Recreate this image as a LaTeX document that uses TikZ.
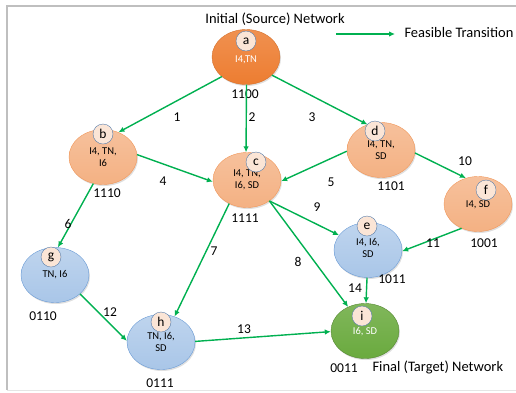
\documentclass[tikz,border=0pt]{standalone}
\usepackage{fontspec}
\setmainfont{Carlito}
\usetikzlibrary{shapes.geometric,shadows,arrows.meta}
\definecolor{arrgreen}{HTML}{00B050}
\definecolor{orgdark}{HTML}{ED7D31}
\definecolor{orglight}{HTML}{F4B183}
\definecolor{bluelight}{HTML}{A9C6E8}
\definecolor{blueline}{HTML}{6A9BD6}
\definecolor{grnnode}{HTML}{6AAA3E}
\definecolor{peach}{HTML}{FBE5D6}
\definecolor{framegray}{HTML}{BFBFBF}
\begin{document}
\begin{tikzpicture}[x=1pt,y=-1pt,
  state/.style = {ellipse, minimum width=68pt, minimum height=55pt, inner sep=0pt,
    align=center, font=\fontsize{10.5}{12}\selectfont, text=black,
    drop shadow={opacity=0.25, shadow xshift=1pt, shadow yshift=-1.5pt}},
  srcnet/.style = {state, draw=orgdark!90!black, top color=orgdark!85!white, bottom color=orgdark, text=white},
  orgnet/.style = {state, draw=orgdark!80, top color=orglight!80!white, bottom color=orglight},
  bluenet/.style = {state, draw=blueline, top color=bluelight!75!white, bottom color=bluelight},
  tgtnet/.style = {state, draw=grnnode!80!black, top color=grnnode!85!white, bottom color=grnnode, text=white},
  letter/.style = {circle, draw=blueline!80!black, fill=peach, minimum size=20pt, inner sep=0pt,
    font=\fontsize{13.5}{13.5}\selectfont},
  code/.style = {font=\fontsize{13.5}{13.5}\selectfont},
  num/.style = {font=\fontsize{13.5}{13.5}\selectfont},
  big/.style = {font=\fontsize{14.5}{14.5}\selectfont},
  trans/.style = {draw=arrgreen, line width=1.4pt, -{Latex[length=6pt,width=5.5pt]}}
]
\useasboundingbox (0,0) rectangle (516,392);
%% Rahmen
\draw[framegray, line width=2pt] (516,6) -- (7,6) -- (7,390);
\draw[framegray!40, line width=0.8pt] (7,390) -- (516,390);
%% Titel und Legende
\node[big] (title) at (275,19) {Initial (Source) Network};
\coordinate (legs) at (336,34);
\coordinate (lege) at (395,34);
\draw[trans] (legs) -- (lege);
\node[big, anchor=west] (legtxt) at (401,33) {Feasible Transition};
\node[big, anchor=west] (final) at (369,367) {Final (Target) Network};
%% Netze
\node[srcnet]  (a) at (246,57)  {\\[1pt]I4,TN};
\node[orgnet]  (b) at (103,157) {\\[-5pt]I4, TN,\\I6};
\node[orgnet]  (c) at (247,180) {\\[-5pt]I4, TN,\\I6, SD};
\node[orgnet]  (d) at (381,150) {\\[-5pt]I4, TN,\\SD};
\node[orgnet]  (f) at (478,204) {\\[-3pt]I4, SD};
\node[bluenet] (e) at (368,250) {\\[-9pt]I4, I6,\\SD};
\node[bluenet] (g) at (55,275)  {TN, I6};
\node[bluenet] (h) at (161,342) {\\[-5pt]TN, I6,\\SD};
\node[tgtnet]  (i) at (365,331) {\\[-4pt]I6, SD};
%% Buchstaben
\node[letter] (la) at (246,41)  {a};
\node[letter] (lb) at (103,134) {b};
\node[letter] (lc) at (256,162) {c};
\node[letter] (ld) at (375,131) {d};
\node[letter] (lf) at (486,190) {f};
\node[letter] (le) at (367,226) {e};
\node[letter] (lg) at (51,257)  {g};
\node[letter] (lh) at (161,322) {h};
\node[letter] (li) at (362,316) {i};
%% Codes
\node[code] (ca) at (245,94)  {1100};
\node[code] (cb) at (107,193) {1110};
\node[code] (cc) at (245,218) {1111};
\node[code] (cd) at (391,186) {1101};
\node[code] (cf) at (484,243) {1001};
\node[code] (ce) at (392,279) {1011};
\node[code] (cg) at (43,316)  {0110};
\node[code] (ch) at (160,383) {0111};
\node[code] (ci) at (344,368) {0011};
%% Uebergaenge
\draw[trans] (a.219) -- (b.58);
\draw[trans] (a.271) -- (c.92);
\draw[trans] (a.-35) -- (d.118);
\draw[trans] (b.4) -- (c.183);
\draw[trans] (d.182) -- (c.-2);
\draw[trans] (d.-5) -- (f.115);
\draw[trans] (b.250) -- (g.84);
\draw[trans] (c.233) -- (h.62);
\draw[trans] (c.-43) -- (i.125);
\draw[trans] (c.-43) -- (e.153);
\draw[trans] (f.236) -- (e.-2);
\draw[trans] (g.-37) -- (h.178);
\draw[trans] (h.1) -- (i.181);
\draw[trans] (e.-92) -- (i.88);
%% Nummern
\node[num] (n1)  at (177,117) {1};
\node[num] (n2)  at (252,117) {2};
\node[num] (n3)  at (312,117) {3};
\node[num] (n4)  at (163,181) {4};
\node[num] (n5)  at (331,182) {5};
\node[num] (n6)  at (68,224)  {6};
\node[num] (n7)  at (214,251) {7};
\node[num] (n8)  at (298,262) {8};
\node[num] (n9)  at (317,207) {9};
\node[num] (n10) at (465,161) {10};
\node[num] (n11) at (433,243) {11};
\node[num] (n12) at (110,312) {12};
\node[num] (n13) at (244,329) {13};
\node[num] (n14) at (355,288) {14};
\end{tikzpicture}
\end{document}
